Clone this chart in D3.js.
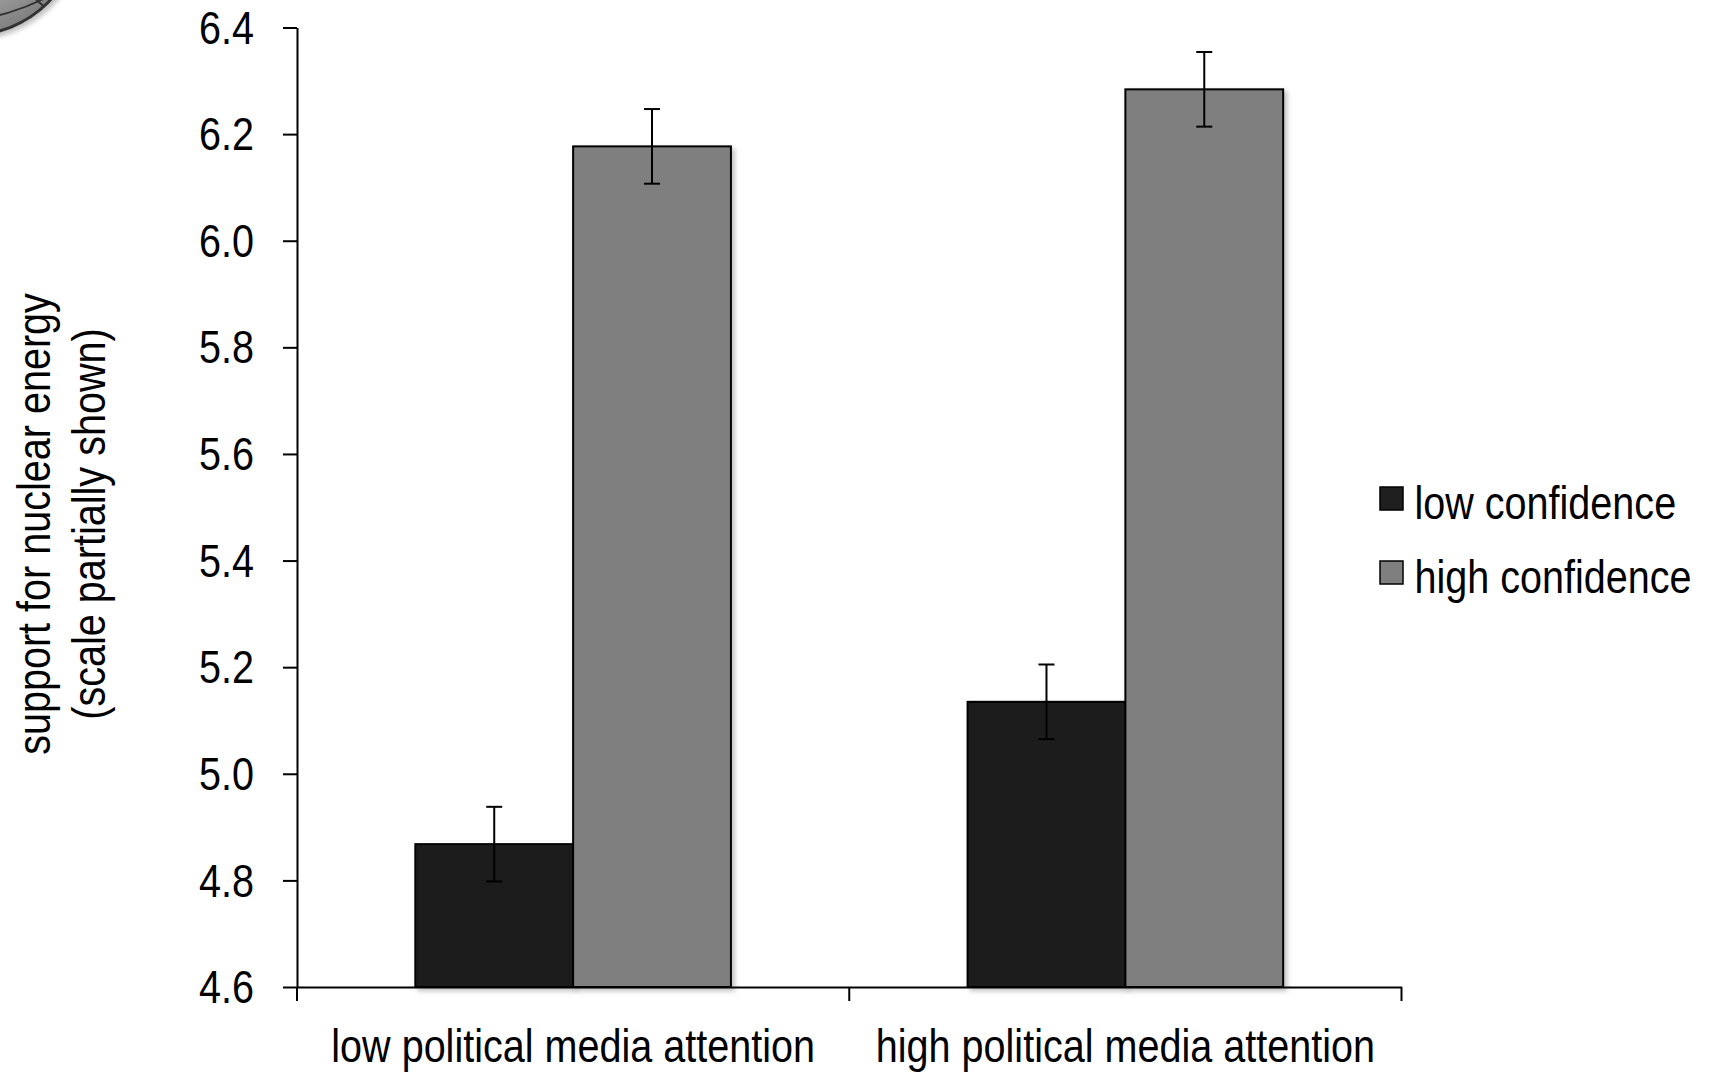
<!DOCTYPE html>
<html>
<head>
<meta charset="utf-8">
<script src="https://cdn.jsdelivr.net/npm/d3@7"></script>
<style>
  body { margin: 0; background: #fff; }
  text { font-family: "Liberation Sans", Arial, sans-serif; fill: #000; }
</style>
</head>
<body>
<svg id="drawing_region"></svg>
<script>
const categories = ['low political media attention', 'high political media attention'];
const series = ['low confidence', 'high confidence'];
const low_conf = [4.868, 5.135];
const high_conf = [6.177, 6.284];
const low_err = [0.07, 0.07];
const high_err = [0.07, 0.07];
const y_ticks = [4.6, 4.8, 5.0, 5.2, 5.4, 5.6, 5.8, 6.0, 6.2, 6.4];
const colors = ['#1f1f1f', '#7f7f7f'];

const data = [];
categories.forEach((c, i) => {
    data.push({ cat: c, ser: series[0], value: low_conf[i], err: low_err[i] });
    data.push({ cat: c, ser: series[1], value: high_conf[i], err: high_err[i] });
});

const config = {
    width: 1710,
    height: 1072,
    margin: { top: 27.5, right: 308.5, bottom: 85, left: 297 }
};

// narrow look: squeeze Liberation Sans horizontally
const narrow = 0.86;
const font_size = 46;

const svg = d3.select('#drawing_region')
    .attr('width', config.width)
    .attr('height', config.height);

const defs = svg.append('defs');
defs.append('filter').attr('id', 'shadow')
    .attr('x', '-10%').attr('y', '-10%').attr('width', '130%').attr('height', '130%')
    .append('feDropShadow')
    .attr('dx', 3).attr('dy', 3).attr('stdDeviation', 2.5)
    .attr('flood-color', '#000').attr('flood-opacity', 0.25);

const inner_width = config.width - config.margin.left - config.margin.right;
const inner_height = config.height - config.margin.top - config.margin.bottom;

const chart = svg.append('g')
    .attr('transform', `translate(${config.margin.left}, ${config.margin.top})`);

const yscale = d3.scaleLinear()
    .domain([4.6, 6.4])
    .range([inner_height, 0]);

const x0 = d3.scaleBand()
    .domain(categories)
    .range([0, inner_width]);

const x1 = d3.scaleBand()
    .domain(series)
    .range([0, x0.bandwidth()])
    .paddingOuter(0.75);

const color = d3.scaleOrdinal().domain(series).range(colors);

// bars
chart.selectAll('rect.bar')
    .data(data)
    .enter()
    .append('rect')
    .attr('class', 'bar')
    .attr('x', d => x0(d.cat) + x1(d.ser))
    .attr('y', d => yscale(d.value))
    .attr('width', x1.bandwidth())
    .attr('height', d => inner_height - yscale(d.value))
    .attr('fill', d => color(d.ser))
    .attr('stroke', '#000')
    .attr('stroke-width', 2)
    .attr('filter', 'url(#shadow)');

// error bars
const err = chart.selectAll('g.err')
    .data(data)
    .enter()
    .append('g')
    .attr('class', 'err')
    .attr('transform', d => `translate(${x0(d.cat) + x1(d.ser) + x1.bandwidth() / 2}, 0)`);

err.append('line')
    .attr('y1', d => yscale(d.value + d.err))
    .attr('y2', d => yscale(d.value - d.err))
    .attr('stroke', '#000').attr('stroke-width', 2);

err.append('line')
    .attr('x1', -8).attr('x2', 8)
    .attr('y1', d => yscale(d.value + d.err))
    .attr('y2', d => yscale(d.value + d.err))
    .attr('stroke', '#000').attr('stroke-width', 2);

err.append('line')
    .attr('x1', -8).attr('x2', 8)
    .attr('y1', d => yscale(d.value - d.err))
    .attr('y2', d => yscale(d.value - d.err))
    .attr('stroke', '#000').attr('stroke-width', 2);

// y axis
const yaxis = d3.axisLeft(yscale)
    .tickValues(y_ticks)
    .tickFormat(d3.format('.1f'))
    .tickSize(14)
    .tickSizeOuter(0)
    .tickPadding(29);

const yaxis_group = chart.append('g').call(yaxis);
yaxis_group.select('.domain').attr('stroke-width', 2);
yaxis_group.selectAll('.tick line').attr('stroke-width', 2);
yaxis_group.selectAll('.tick text')
    .attr('font-size', font_size)
    .attr('font-family', null)
    .attr('dy', '0.34em')
    .attr('x', -43 / narrow)
    .attr('transform', `scale(${narrow},1)`);

// x axis
const xaxis = d3.axisBottom(x0)
    .tickSize(0)
    .tickSizeOuter(0)
    .tickPadding(42);

const xaxis_group = chart.append('g')
    .attr('transform', `translate(0, ${inner_height})`)
    .call(xaxis);
xaxis_group.select('.domain').attr('stroke-width', 2);
xaxis_group.selectAll('.tick text')
    .attr('font-size', font_size)
    .attr('font-family', null)
    .attr('transform', `scale(${narrow},1)`);

const boundaries = categories.map(c => x0(c)).concat([inner_width]);
xaxis_group.selectAll('line.sep')
    .data(boundaries)
    .enter()
    .append('line')
    .attr('class', 'sep')
    .attr('x1', d => d).attr('x2', d => d)
    .attr('y1', 0).attr('y2', 14)
    .attr('stroke', '#000').attr('stroke-width', 2);

// y title
const ytitle = svg.append('text')
    .attr('transform', `translate(50, 524) rotate(-90) scale(${narrow},1)`)
    .attr('text-anchor', 'middle')
    .attr('font-size', font_size);
ytitle.append('tspan').attr('x', 0).attr('dy', 0).text('support for nuclear energy');
ytitle.append('tspan').attr('x', 0).attr('dy', 55).text('(scale partially shown)');

// legend
const legend = svg.append('g').attr('transform', 'translate(1380, 487)');
const item = legend.selectAll('g')
    .data(series)
    .enter()
    .append('g')
    .attr('transform', (d, i) => `translate(0, ${i * 74})`);
item.append('rect')
    .attr('width', 23).attr('height', 23)
    .attr('fill', d => color(d))
    .attr('stroke', '#000').attr('stroke-width', 1.5);
item.append('text')
    .attr('x', 34.5 / narrow).attr('y', 32)
    .attr('transform', `scale(${narrow},1)`)
    .attr('font-size', font_size)
    .text(d => d);

// partial emblem in corner
const grad = defs.append('radialGradient').attr('id', 'emb');
grad.append('stop').attr('offset', '0%').attr('stop-color', '#d8d8d8');
grad.append('stop').attr('offset', '100%').attr('stop-color', '#808080');
defs.append('clipPath').attr('id', 'embclip')
    .append('circle').attr('cx', -30).attr('cy', -75).attr('r', 110);
const emblem = svg.append('g').attr('filter', 'url(#shadow)');
emblem.append('circle')
    .attr('cx', -30).attr('cy', -75).attr('r', 110)
    .attr('fill', 'url(#emb)').attr('stroke', '#333').attr('stroke-width', 3);
const grid = emblem.append('g').attr('clip-path', 'url(#embclip)')
    .attr('fill', 'none').attr('stroke', '#333').attr('stroke-width', 2);
grid.append('path').attr('d', 'M -30 -75 Q 10 -20 60 20');
grid.append('path').attr('d', 'M -30 -75 Q -20 -10 -10 40');
grid.append('path').attr('d', 'M -60 5 Q 0 0 40 -30');
grid.append('path').attr('d', 'M -60 25 Q 10 20 60 -10');
</script>
</body>
</html>
